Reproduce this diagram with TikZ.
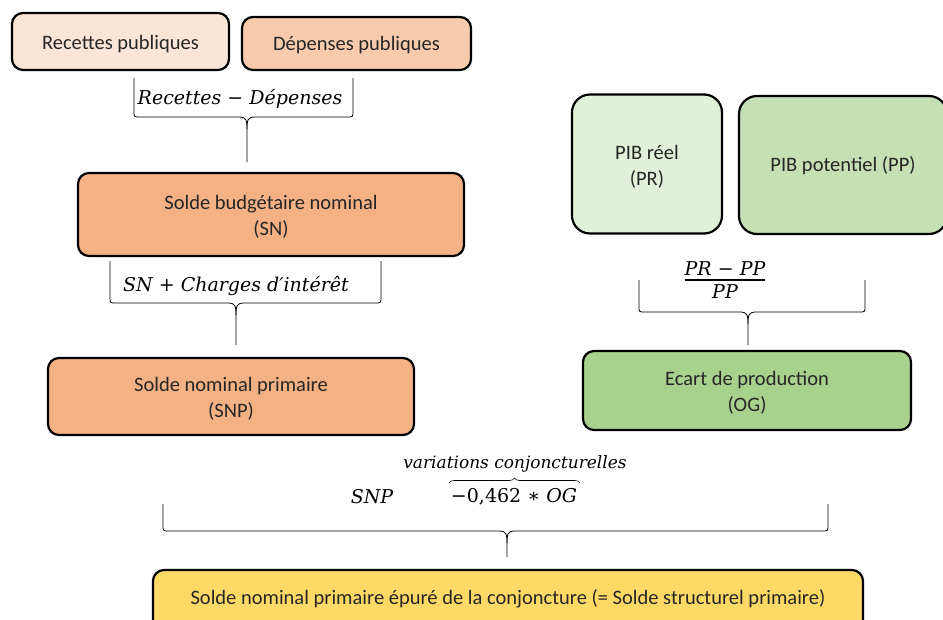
\documentclass[tikz,border=0pt]{standalone}
\usepackage{fontspec}
\setmainfont{Carlito}
\newfontfamily\mathf{DejaVu Serif}
\usetikzlibrary{decorations.pathreplacing}
\definecolor{cRec}{HTML}{FBE5D6}
\definecolor{cDep}{HTML}{F8CBAD}
\definecolor{cSN}{HTML}{F4B183}
\definecolor{cPR}{HTML}{E2F0D9}
\definecolor{cPP}{HTML}{C5E0B4}
\definecolor{cOG}{HTML}{A9D18E}
\definecolor{cFin}{HTML}{FFD966}
\definecolor{ctxt}{HTML}{262626}
\newcommand\bt[2][-2.5pt]{\raisebox{#1}[\height][\depth]{\begin{tabular}{@{}c@{}}#2\end{tabular}}}
\newcommand\hbr[6]{% x1, x2, ytop, yh, xc, ybot
  \draw[brc] (#1,#3) -- (#1,#4-6) .. controls (#1,#4) .. (#1+6,#4) -- (#5-8,#4) .. controls (#5,#4) and (#5,#4+4) .. (#5,#4+12) -- (#5,#6);
  \draw[brc] (#2,#3) -- (#2,#4-6) .. controls (#2,#4) .. (#2-6,#4) -- (#5+8,#4) .. controls (#5,#4) and (#5,#4+4) .. (#5,#4+12);
}
\begin{document}
\begin{tikzpicture}[x=1pt,y=-1pt,
  box/.style={draw=black, line width=2.2pt, rounded corners=11pt,
    text=ctxt, font=\fontsize{20.5}{26}\selectfont, inner sep=0pt},
  bigbox/.style={box, rounded corners=18pt},
  brc/.style={draw=black, line width=0.8pt},
  mth/.style={font=\mathf\itshape\fontsize{19}{22}\selectfont, text=black, inner sep=0pt}]
\clip (0,0) rectangle (943,619);
\fill[white] (0,0) rectangle (943,619);

\node[box, fill=cRec, minimum width=217pt, minimum height=57pt] (rec) at (120.5,41.5) {\bt[-3pt]{Recettes publiques}};
\node[box, fill=cDep, minimum width=229pt, minimum height=53pt] (dep) at (356.5,43.5) {\bt[-2pt]{Dépenses publiques}};
\node[box, fill=cSN, minimum width=386pt, minimum height=83pt] (sn) at (271,214.5) {\bt{Solde budgétaire nominal\\(SN)}};
\node[box, fill=cSN, minimum width=366pt, minimum height=77pt] (snp) at (231,396.5) {\bt{Solde nominal primaire\\(SNP)}};
\node[bigbox, fill=cPR, minimum width=150pt, minimum height=139pt] (pr) at (647,164) {\bt[-3pt]{PIB réel\\(PR)}};
\node[bigbox, fill=cPP, minimum width=208pt, minimum height=138pt] (pp) at (843,165) {\bt[-1pt]{PIB potentiel (PP)}};
\node[box, fill=cOG, minimum width=328pt, minimum height=79pt] (og) at (747,390.5) {\bt{Ecart de production\\(OG)}};
\node[box, fill=cFin, minimum width=710pt, minimum height=64pt] (fin) at (508,602) {\bt[3pt]{Solde nominal primaire épuré de la conjoncture (= Solde structurel primaire)}};

% brace 1
\hbr{134}{353}{78}{117}{247}{162}
\node[mth] (l1) at (240,99) {Recettes − Dépenses};
% brace 2
\hbr{110}{381}{261}{303}{236}{345}
\node[mth] (l2) at (236,286) {SN + Charges d′intérêt};
% brace 3
\hbr{639}{865}{280}{312}{748}{345}
\node[mth, anchor=south] (num) at (725,276) {PR − PP};
\node[mth, anchor=north] (den) at (725,284) {PP};
\draw[line width=1.3pt] (685,280) -- (765,280);
% brace 4
\hbr{163}{828}{504}{531}{507}{557}
\node[mth] (snpt) at (372,497) {SNP};
\node[mth] (ogt) at (514,497) {−{\upshape 0,462} ∗ OG};
\draw[brc, line width=0.6pt, decorate, decoration={brace, amplitude=5pt, raise=0pt}] (449,483) -- (580,483);
\node[mth, font=\mathf\itshape\fontsize{17}{18}\selectfont] (var) at (515,464) {variations conjoncturelles};
\end{tikzpicture}
\end{document}
